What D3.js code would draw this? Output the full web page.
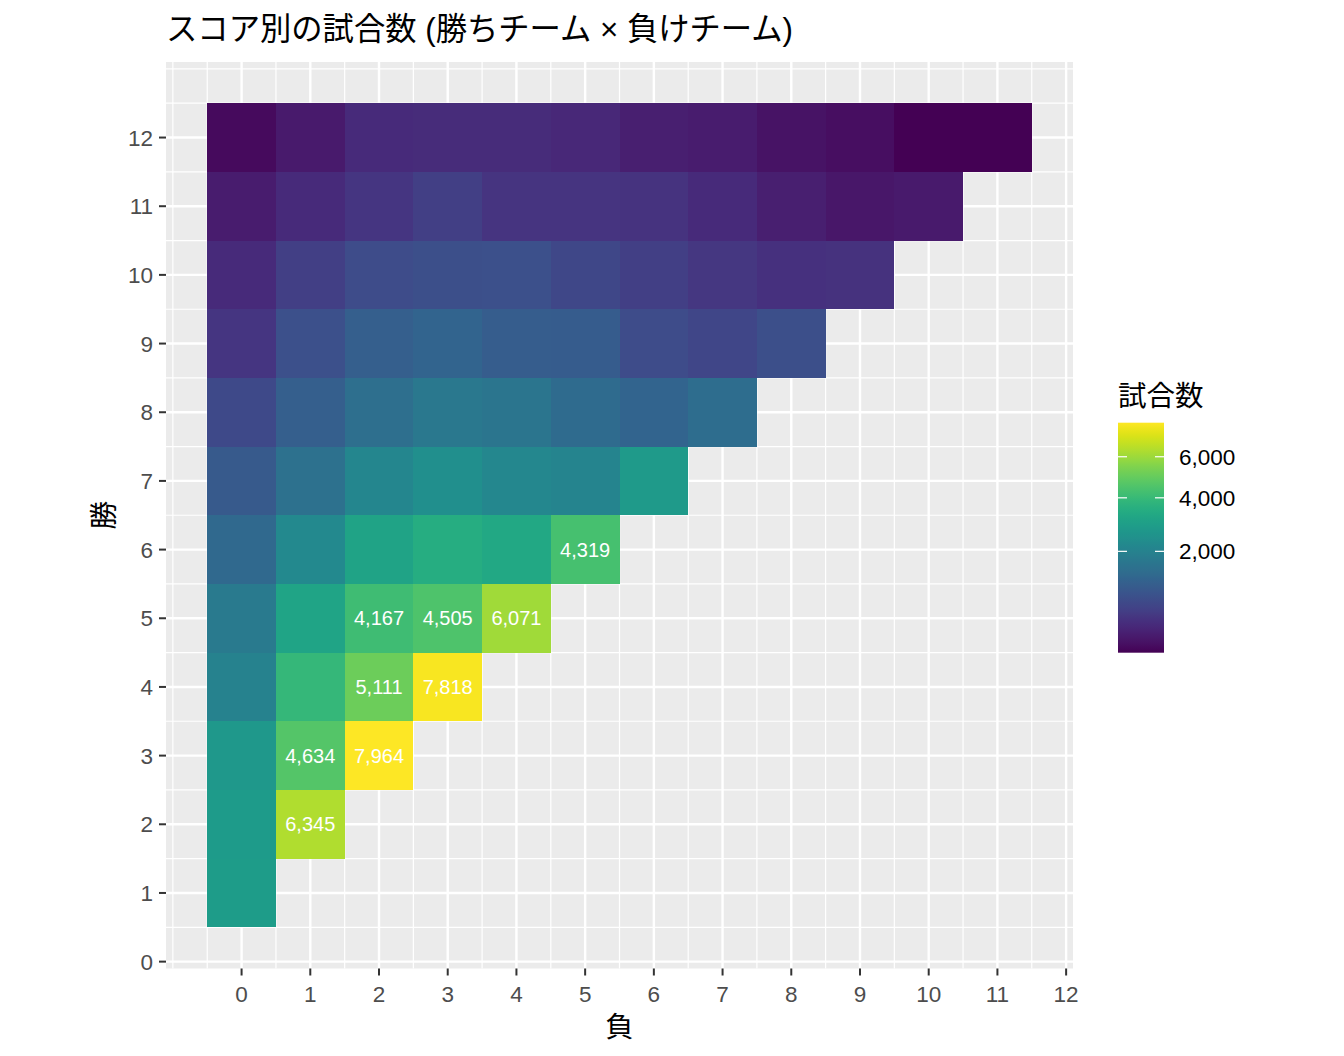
<!DOCTYPE html>
<html>
<head>
<meta charset="utf-8">
<script src="https://cdn.jsdelivr.net/npm/d3@7"></script>
<style>
  body { margin: 0; background: #fff; }
  text { font-family: "Liberation Sans", Arial, "Noto Sans CJK JP", sans-serif; }
  .jp { font-family: "Noto Sans CJK JP", "Liberation Sans", sans-serif; }
</style>
</head>
<body>
<svg id="chart" width="1344" height="1056"></svg>
<script>
/*
 * DATA
 */

// axis ticks (scores)
var loserTicks = [0, 1, 2, 3, 4, 5, 6, 7, 8, 9, 10, 11, 12];
var winnerTicks = [0, 1, 2, 3, 4, 5, 6, 7, 8, 9, 10, 11, 12];
var legendTicks = [2000, 4000, 6000];

// winner score of each row
var winnerScores = [1, 2, 3, 4, 5, 6, 7, 8, 9, 10, 11, 12];

// games per row, index = loser score (0 .. winner - 1)
var win1 = [2860];
var win2 = [2800, 6345];
var win3 = [2700, 4634, 7964];
var win4 = [1990, 3920, 5111, 7818];
var win5 = [1785, 3160, 4167, 4505, 6071];
var win6 = [1345, 2210, 3110, 3480, 3290, 4319];
var win7 = [1020, 1525, 2140, 2400, 2175, 2065, 2770];
var win8 = [735, 1120, 1465, 1720, 1655, 1375, 1220, 1435];
var win9 = [480, 850, 1120, 1220, 1080, 1065, 780, 685, 825];
var win10 = [365, 590, 780, 825, 850, 715, 590, 500, 425, 445];
var win11 = [242, 365, 480, 590, 470, 462, 460, 360, 262, 211, 226];
var win12 = [134, 230, 367, 382, 380, 337, 263, 250, 184, 155, 95, 93];

var gameRows = [win1, win2, win3, win4, win5, win6, win7, win8, win9, win10, win11, win12];

var labelThreshold = 4000;

/*
 * LAYOUT
 */

var svg = d3.select('#chart');

var panel = { left: 166, right: 1073, top: 62, bottom: 968.5 };

var x = d3.scaleLinear().domain([-1.1, 12.1]).range([panel.left, panel.right]);
var y = d3.scaleLinear().domain([-0.1, 13.1]).range([panel.bottom, panel.top]);

var cells = [];
gameRows.forEach(function (row, i) {
    row.forEach(function (n, loser) {
        cells.push({ win: winnerScores[i], lose: loser, n: n });
    });
});

var nMin = d3.min(cells, function (d) { return d.n; });
var nMax = d3.max(cells, function (d) { return d.n; });
var color = d3.scaleSequentialSqrt(d3.interpolateViridis).domain([nMin, nMax]);

// panel background
svg.append('rect')
    .attr('x', panel.left).attr('y', panel.top)
    .attr('width', panel.right - panel.left)
    .attr('height', panel.bottom - panel.top)
    .attr('fill', '#EBEBEB');

// minor grid: every half step between the extended breaks
var minorX = d3.range(-1, 13.01, 0.5).filter(function (v) {
    return v > -1.1 && v < 12.1 && v % 1 !== 0;
}).concat([-1]);
var minorY = d3.range(-1, 13.01, 0.5).filter(function (v) {
    return v > -0.1 && v < 13.1 && v % 1 !== 0;
}).concat([13]);

var grid = svg.append('g');
grid.selectAll('.minx').data(minorX).enter().append('line')
    .attr('x1', x).attr('x2', x)
    .attr('y1', panel.top).attr('y2', panel.bottom)
    .attr('stroke', '#fff').attr('stroke-width', 1.2);
grid.selectAll('.miny').data(minorY).enter().append('line')
    .attr('y1', y).attr('y2', y)
    .attr('x1', panel.left).attr('x2', panel.right)
    .attr('stroke', '#fff').attr('stroke-width', 1.2);
grid.selectAll('.majx').data(loserTicks).enter().append('line')
    .attr('x1', x).attr('x2', x)
    .attr('y1', panel.top).attr('y2', panel.bottom)
    .attr('stroke', '#fff').attr('stroke-width', 2.4);
grid.selectAll('.majy').data(winnerTicks).enter().append('line')
    .attr('y1', y).attr('y2', y)
    .attr('x1', panel.left).attr('x2', panel.right)
    .attr('stroke', '#fff').attr('stroke-width', 2.4);

// tiles
svg.append('g').selectAll('rect').data(cells).enter().append('rect')
    .attr('x', function (d) { return x(d.lose - 0.5); })
    .attr('y', function (d) { return y(d.win + 0.5); })
    .attr('width', x(1) - x(0))
    .attr('height', y(0) - y(1))
    .attr('fill', function (d) { return color(d.n); })
    .attr('shape-rendering', 'crispEdges');

// labels on the big cells
svg.append('g').selectAll('text')
    .data(cells.filter(function (d) { return d.n > labelThreshold; }))
    .enter().append('text')
    .attr('x', function (d) { return x(d.lose); })
    .attr('y', function (d) { return y(d.win); })
    .attr('dy', '0.36em')
    .attr('text-anchor', 'middle')
    .attr('fill', '#fff')
    .style('font-size', '20px')
    .text(function (d) { return d3.format(',')(d.n); });

/*
 * AXES
 */

var xAxis = svg.append('g');
xAxis.selectAll('line').data(loserTicks).enter().append('line')
    .attr('x1', x).attr('x2', x)
    .attr('y1', panel.bottom).attr('y2', panel.bottom + 7)
    .attr('stroke', '#333').attr('stroke-width', 2);
xAxis.selectAll('text').data(loserTicks).enter().append('text')
    .attr('x', x).attr('y', panel.bottom + 33)
    .attr('text-anchor', 'middle')
    .attr('fill', '#4D4D4D')
    .style('font-size', '22.5px')
    .text(function (d) { return d; });

var yAxis = svg.append('g');
yAxis.selectAll('line').data(winnerTicks).enter().append('line')
    .attr('y1', y).attr('y2', y)
    .attr('x1', panel.left - 7).attr('x2', panel.left)
    .attr('stroke', '#333').attr('stroke-width', 2);
yAxis.selectAll('text').data(winnerTicks).enter().append('text')
    .attr('x', panel.left - 13).attr('y', y)
    .attr('dy', '0.36em')
    .attr('text-anchor', 'end')
    .attr('fill', '#4D4D4D')
    .style('font-size', '22.5px')
    .text(function (d) { return d; });

svg.append('text').attr('class', 'jp')
    .attr('x', (panel.left + panel.right) / 2).attr('y', 1037)
    .attr('text-anchor', 'middle')
    .style('font-size', '28.5px')
    .text('負');

svg.append('text').attr('class', 'jp')
    .attr('transform', 'translate(114,' + ((panel.top + panel.bottom) / 2) + ') rotate(-90)')
    .attr('text-anchor', 'middle')
    .style('font-size', '28.5px')
    .text('勝');

svg.append('text')
    .attr('x', panel.left).attr('y', 40)
    .attr('textLength', 627)
    .attr('lengthAdjust', 'spacingAndGlyphs')
    .style('font-size', '32px')
    .text('スコア別の試合数 (勝ちチーム × 負けチーム)');

/*
 * LEGEND
 */

var bar = { left: 1118, width: 46, top: 422.7, bottom: 652.7 };
var ly = d3.scaleSqrt().domain([nMin, nMax]).range([bar.bottom, bar.top]);

var grad = svg.append('defs').append('linearGradient')
    .attr('id', 'bar').attr('x1', 0).attr('y1', 1).attr('x2', 0).attr('y2', 0);
grad.selectAll('stop').data(d3.range(0, 1.0001, 0.02)).enter().append('stop')
    .attr('offset', function (t) { return t; })
    .attr('stop-color', function (t) { return d3.interpolateViridis(t); });

svg.append('rect')
    .attr('x', bar.left).attr('y', bar.top)
    .attr('width', bar.width).attr('height', bar.bottom - bar.top)
    .attr('fill', 'url(#bar)');

var lt = svg.append('g');
lt.selectAll('.l').data(legendTicks).enter().append('line')
    .attr('x1', bar.left).attr('x2', bar.left + 9)
    .attr('y1', ly).attr('y2', ly)
    .attr('stroke', '#fff').attr('stroke-width', 1.2);
lt.selectAll('.r').data(legendTicks).enter().append('line')
    .attr('x1', bar.left + bar.width - 9).attr('x2', bar.left + bar.width)
    .attr('y1', ly).attr('y2', ly)
    .attr('stroke', '#fff').attr('stroke-width', 1.2);
lt.selectAll('text').data(legendTicks).enter().append('text')
    .attr('x', bar.left + bar.width + 15).attr('y', ly)
    .attr('dy', '0.36em')
    .style('font-size', '22.5px')
    .text(function (d) { return d3.format(',')(d); });

svg.append('text').attr('class', 'jp')
    .attr('x', bar.left).attr('y', 406)
    .style('font-size', '28.5px')
    .text('試合数');
</script>
</body>
</html>
